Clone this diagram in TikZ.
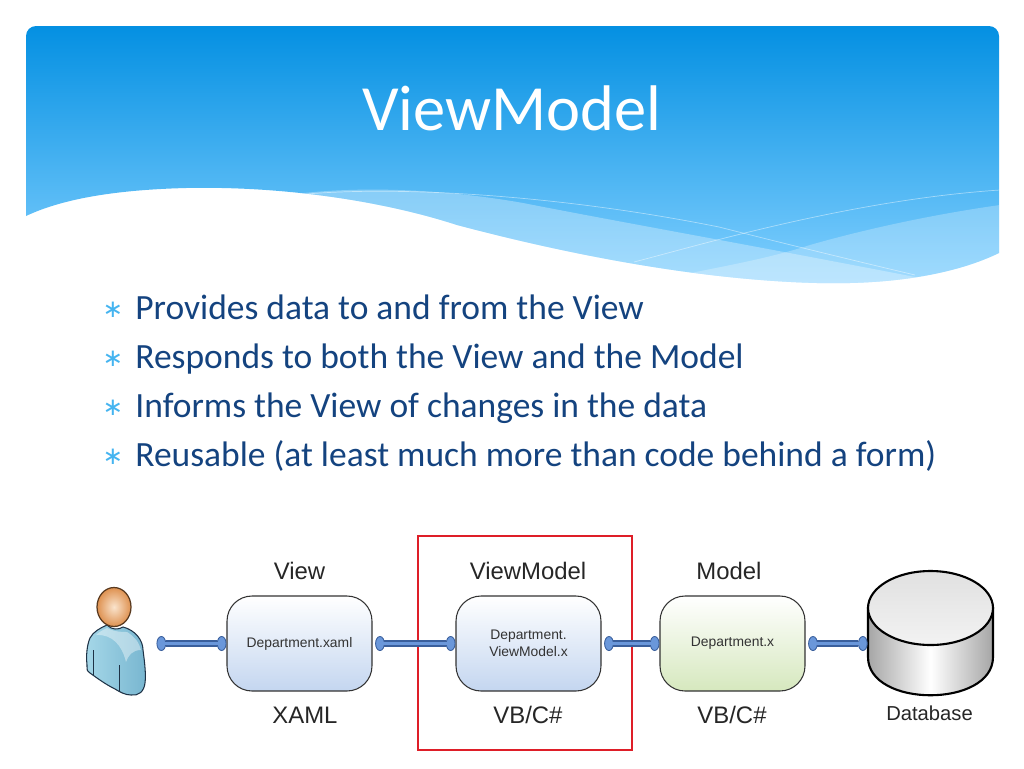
\documentclass[tikz,border=0pt]{standalone}
\usepackage{fontspec}
\usepackage{tikz}
\usetikzlibrary{arrows.meta}
\setmainfont{Carlito}
\newfontfamily\diagfont{Liberation Sans}
\newfontfamily\markfont{DejaVu Sans}
\definecolor{bodyblue}{HTML}{14437F}
\definecolor{bulletblue}{HTML}{45B4F0}
\definecolor{linkblue}{HTML}{6A97DA}
\definecolor{linkedge}{HTML}{3A5F9C}
\definecolor{headtop}{RGB}{4,144,226}
\definecolor{headlow}{RGB}{130,208,255}
\definecolor{redframe}{RGB}{222,30,40}
\definecolor{viewlow}{RGB}{196,214,240}
\definecolor{modellow}{RGB}{214,232,190}
\definecolor{skinin}{RGB}{250,228,205}
\definecolor{skinout}{RGB}{222,145,80}
\definecolor{shirtleft}{RGB}{165,215,232}
\definecolor{shirtright}{RGB}{120,182,208}
\definecolor{darkline}{RGB}{30,50,70}
\tikzset{
  headerpath/.style={insert path={(26,216) [rounded corners=0.2cm] -- (26,26) -- (999,26) [sharp corners] -- (999,253)
    .. controls (960,272) and (900,285) .. (817,283)
    .. controls (700,280) and (570,255) .. (457,225)
    .. controls (380,200) and (280,186) .. (186,188)
    .. controls (110,190) and (60,200) .. (26,216) -- cycle}},
  bullettext/.style={anchor=base west,inner sep=0pt,text=bodyblue,font=\fontsize{20.2pt}{24pt}\selectfont},
  bulletmark/.style={anchor=center,inner sep=0pt,text=bulletblue,font=\markfont\fontsize{14pt}{16pt}\selectfont},
  layerbox/.style={draw=black!80,line width=0.6pt,rounded corners=0.5cm,minimum width=2.9cm,minimum height=1.9cm,
    align=center,text=black!80,font=\diagfont\fontsize{7.9pt}{9.5pt}\selectfont},
  layerlabel/.style={inner sep=0pt,text=black!85,font=\diagfont\fontsize{13.6pt}{15pt}\selectfont},
  link/.style={draw=linkedge,line width=3.6pt,
    {Ellipse[length=5.5pt,width=8.5pt,fill=linkblue,line width=0.5pt]}-{Ellipse[length=5.5pt,width=8.5pt,fill=linkblue,line width=0.5pt]},
    shorten <=1.5pt,shorten >=0pt},
  linkcore/.style={draw=linkblue,line width=2pt,shorten <=4pt,shorten >=3pt}
}
\begin{document}
\begin{tikzpicture}[x=0.02cm,y=-0.02cm]
  \useasboundingbox (0,0) rectangle (1024,768);
  % header
  \shade[top color=headtop,bottom color=headlow,headerpath];
  \begin{scope}
    \clip[headerpath];
    \fill[white,opacity=0.3] (304,193) .. controls (370,186) and (450,190) .. (523,203)
      .. controls (620,222) and (750,245) .. (915,277) -- (915,300) -- (304,300) -- cycle;
    \fill[white,opacity=0.25] (686,274) .. controls (730,265) and (770,258) .. (810,245)
      .. controls (880,225) and (950,212) .. (1000,205) -- (1000,300) -- (686,300) -- cycle;
    \draw[white,opacity=0.45,line width=0.4pt] (634,262) .. controls (700,245) and (850,200) .. (1000,190);
    \draw[white,opacity=0.45,line width=0.4pt] (307,194) .. controls (400,186) and (560,195) .. (719,227)
      .. controls (790,245) and (860,262) .. (915,275);
  \end{scope}
  \node[text=white,inner sep=0pt,font=\fontsize{36.7pt}{42pt}\selectfont] (title) at (512,108) {ViewModel};
  % bullets
  \foreach \y/\line in {319/Provides data to and from the View,368/Responds to both the View and the Model,417/Informs the View of changes in the data,466/Reusable (at least much more than code behind a form)}{
    \node[bulletmark] at (113,\y-9) {∗};
    \node[bullettext] at (135,\y) {\line};
  }
  % red frame
  \node[draw=redframe,line width=0.7pt,minimum width=4.28cm,minimum height=4.28cm,inner sep=0pt] (frame) at (525,643) {};
  % boxes
  \node[layerbox,top color=white,bottom color=viewlow] (view) at (299.5,643.5) {Department.xaml};
  \node[layerbox,top color=white,bottom color=viewlow] (vm) at (528.5,643.5) {Department.\\ViewModel.x};
  \node[layerbox,top color=white,bottom color=modellow] (model) at (732.5,643.5) {Department.x};
  \node[layerlabel] (viewtop) at (299.5,571) {View};
  \node[layerlabel] (vmtop) at (528,571) {ViewModel};
  \node[layerlabel] (modeltop) at (729,571) {Model};
  \node[layerlabel] (viewlang) at (305,715) {XAML};
  \node[layerlabel] (vmlang) at (528,715) {VB/C\#};
  \node[layerlabel] (modellang) at (732,715) {VB/C\#};
  % user
  \node[inner sep=0pt,minimum width=1.5cm,minimum height=2.2cm] (user) at (116,643.5) {};
  \shade[left color=shirtleft,right color=shirtright,draw=darkline,line width=0.6pt]
    (107,625) .. controls (112,630) and (118,630) .. (123,627) .. controls (135,630) and (143,640) .. (143,650)
    .. controls (145,665) and (146,675) .. (145,683) .. controls (144,692) and (138,696) .. (131,695)
    .. controls (125,695) and (120,692) .. (115,689) .. controls (105,684) and (97,678) .. (90,673)
    .. controls (87,672) and (87,670) .. (87,665) .. controls (86,655) and (87,645) .. (90,638)
    .. controls (93,632) and (100,628) .. (107,625) -- cycle;
  \fill[white,opacity=0.4] (107,628) .. controls (115,632) and (122,632) .. (127,632) .. controls (134,636) and (139,642) .. (141,650)
    .. controls (132,650) and (128,656) .. (126,662) .. controls (122,645) and (112,634) .. (96,635) .. controls (99,632) and (103,630) .. (107,628) -- cycle;
  \draw[darkline,line width=0.5pt] (93,650) -- (93,675) (119,665) -- (119,692);
  \shade[inner color=skinin,outer color=skinout,draw=black!60!skinout,line width=0.7pt] (114,607) ellipse (0.34cm and 0.39cm);
  % database
  \node[inner sep=0pt,minimum width=2.5cm,minimum height=2cm] (db) at (930.5,643.5) {};
  \shade[left color=black!35,right color=black!35,middle color=white,draw=black,line width=1.2pt]
    (868,608) -- (868,657) .. controls (868,708) and (993,708) .. (993,657) -- (993,608) -- cycle;
  \shade[top color=black!12,bottom color=white!95!black,draw=black,line width=1.2pt] (930.5,608) ellipse (1.25cm and 0.74cm);
  \node[layerlabel,font=\diagfont\fontsize{11.5pt}{13pt}\selectfont] (dblabel) at (929.5,713) {Database};
  % connectors
  \foreach \a/\b in {user/view,view/vm,vm/model,model/db}{
    \draw[link] (\a) -- (\b);
    \draw[linkcore] (\a) -- (\b);
  }
\end{tikzpicture}
\end{document}
